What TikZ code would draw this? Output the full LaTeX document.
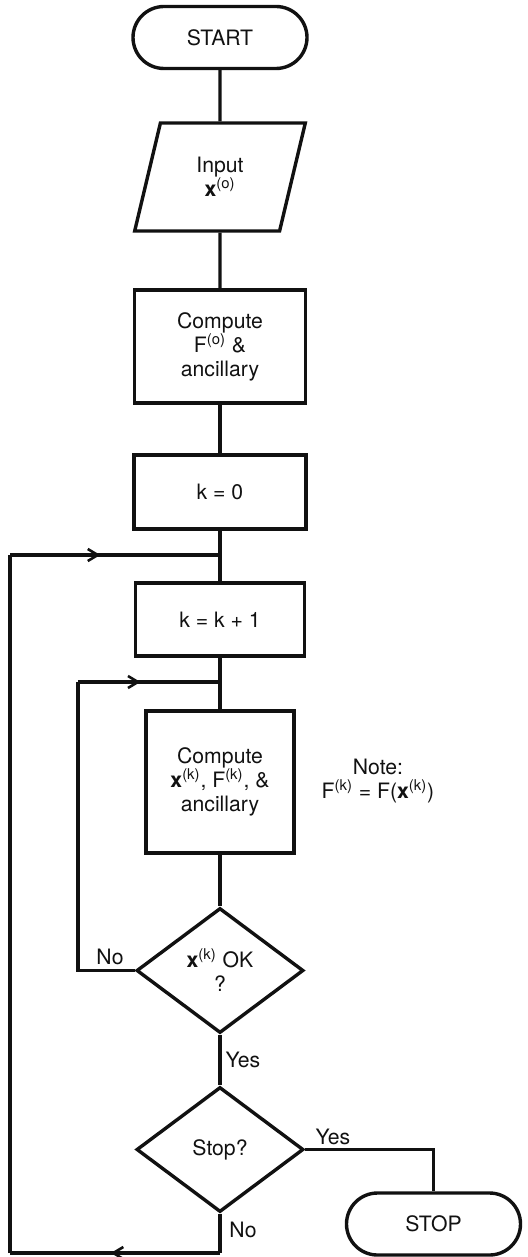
\documentclass[tikz,border=0pt]{standalone}
\usepackage{fontspec}
\setmainfont{TeX Gyre Heros}
\usepackage{tikz}
\usetikzlibrary{arrows.meta,positioning,calc,shapes.geometric,shapes.misc,decorations.markings}
\definecolor{ink}{HTML}{111111}

\begin{document}
\begin{tikzpicture}[x=0.5pt,y=-0.5pt,font=\fontsize{10.6}{12}\selectfont,
    line width=1.7pt,draw=ink,text=ink,
    term/.style={draw,rounded rectangle,minimum width=87pt,minimum height=31pt,inner sep=0pt},
    iobox/.style={draw,trapezium,trapezium left angle=75.5,trapezium right angle=104.5,
                  trapezium stretches=true,minimum width=85.5pt,minimum height=54pt,
                  align=center,inner sep=0pt},
    procbox/.style={draw,rectangle,align=center,inner sep=0pt},
    decide/.style={draw,diamond,minimum width=83.5pt,minimum height=62.5pt,
                   aspect=1.33,align=center,inner sep=0pt},
    midarrow/.style={postaction={decorate},decoration={markings,
                   mark=at position #1 with {\arrow{Straight Barb[length=5pt,width=6pt,line width=1.3pt]}}}}]
  \useasboundingbox (0,0) rectangle (528,1257);

  % main column
  \node[term] (start) at (220,37.5) {START};
  \node[iobox] (input) at (220,177) {Input\\\textbf{x}\textsuperscript{(o)}};
  \node[procbox,minimum width=85.5pt,minimum height=56.5pt] (initF) at (220,346.5)
       {Compute\\F\textsuperscript{(o)} \&\\ancillary};
  \node[procbox,minimum width=86pt,minimum height=37pt] (kzero) at (220,492) {k = 0};
  \node[procbox,minimum width=84.5pt,minimum height=36.5pt] (kinc) at (220,619.5) {k = k + 1};
  \node[procbox,minimum width=74pt,minimum height=71pt] (stepF) at (220,782)
       {Compute\\\textbf{x}\textsuperscript{(k)}, F\textsuperscript{(k)}, \&\\ancillary};
  \node[decide] (okq) at (220,970.5) {\textbf{x}\textsuperscript{(k)} OK\\?};
  \node[decide] (stopq) at (220,1149.5) {Stop?};
  \node[term] (stop) at (433.5,1224) {STOP};

  \node[align=center,inner sep=0pt] (note) at (378,781)
       {Note:\\F\textsuperscript{(k)} = F(\textbf{x}\textsuperscript{(k)})};

  % junctions of the loops
  \coordinate (outerjoin) at (220,555);
  \coordinate (innerjoin) at (220,682);
  \coordinate (outerbot) at (220,1253);
  \coordinate (outerleft) at (10,1253);
  \coordinate (innerleft) at (78,970.5);

  \draw (start) -- (input);
  \draw (input) -- (initF);
  \draw (initF) -- (kzero);
  \draw (kzero) -- (kinc);
  \draw (kinc) -- (stepF);
  \draw (stepF) -- (okq);
  \draw (okq) -- node[right,pos=0.5,inner sep=2pt,anchor=west] (okyes) {Yes} (stopq);
  \draw (stopq.east) -| (stop.north);
  \draw (stopq.south) -- (outerbot);

  % inner loop: x(k) not OK
  \draw (okq.west) -- (innerleft) -- (innerleft |- innerjoin);
  \draw[midarrow=0.44] (innerleft |- innerjoin) -- (innerjoin);

  % outer loop: not stopping
  \draw[midarrow=0.52] (outerbot) -- (outerleft);
  \draw (outerleft) -- (outerleft |- outerjoin);
  \draw[midarrow=0.43] (outerleft |- outerjoin) -- (outerjoin);

  % branch labels
  \node (okno) at (110,957) {No};
  \node (stopyes) at (333,1137) {Yes};
  \node (stopno) at (243,1230) {No};
\end{tikzpicture}
\end{document}
